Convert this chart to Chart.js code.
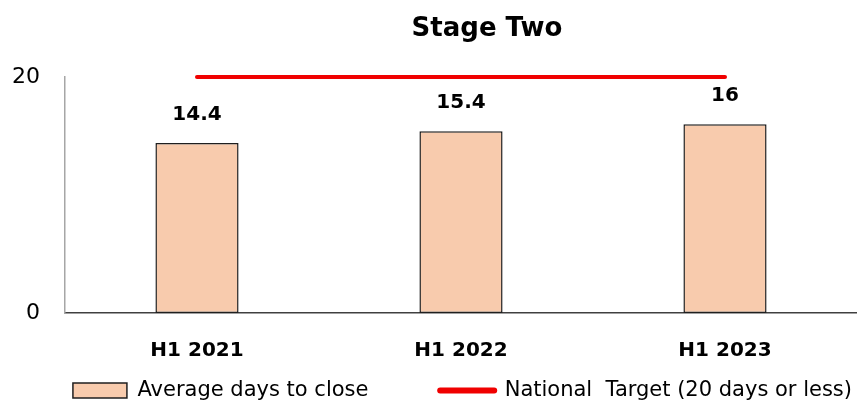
<!DOCTYPE html>
<html>
<head>
<meta charset="utf-8">
<script src="https://cdn.jsdelivr.net/npm/chart.js@4.4.1/dist/chart.umd.min.js"></script>
<style>
  html, body { margin: 0; padding: 0; background: #fff; }
  #wrap { width: 857px; height: 403px; }
</style>
</head>
<body>
<div id="wrap"><canvas id="stageChart" width="857" height="403"></canvas></div>
<script>
const categories = ['H1 2021', 'H1 2022', 'H1 2023'];
const avgDays = [14.4, 15.4, 16];
const targetDays = [20, 20, 20];
const yTicks = [0, 20];
const chartTitle = 'Stage Two';

const FONT = "'DejaVu Sans', sans-serif";

// title sits over the plot, not the middle of the canvas
const titlePlugin = {
    id: 'stageTitle',
    afterDraw(chart) {
        const ctx = chart.ctx;
        ctx.save();
        ctx.font = 'bold 26px ' + FONT;
        ctx.fillStyle = '#000';
        ctx.textAlign = 'center';
        ctx.textBaseline = 'middle';
        ctx.fillText(chartTitle, 487, 29);
        ctx.restore();
    }
};

// value labels above the bars
const valueLabels = {
    id: 'valueLabels',
    afterDatasetsDraw(chart) {
        const ctx = chart.ctx;
        const meta = chart.getDatasetMeta(0);
        ctx.save();
        ctx.font = 'bold 20px ' + FONT;
        ctx.fillStyle = '#000';
        ctx.textAlign = 'center';
        ctx.textBaseline = 'middle';
        meta.data.forEach((bar, i) => {
            ctx.fillText(String(avgDays[i]), bar.x, bar.y - 28);
        });
        ctx.restore();
    }
};

new Chart(document.getElementById('stageChart'), {
    type: 'bar',
    data: {
        labels: categories,
        datasets: [
            {
                type: 'bar',
                label: 'Average days to close',
                data: avgDays,
                backgroundColor: '#F8CBAD',
                borderColor: '#1F1F1F',
                borderWidth: 1.5,
                borderSkipped: false,
                categoryPercentage: 1,
                barPercentage: 0.315,
                order: 2
            },
            {
                type: 'line',
                label: 'National  Target (20 days or less)',
                data: targetDays,
                borderColor: '#F00000',
                backgroundColor: '#F00000',
                borderWidth: 4,
                borderCapStyle: 'round',
                pointRadius: 0,
                clip: false,
                order: 1
            }
        ]
    },
    options: {
        responsive: false,
        animation: false,
        layout: { padding: { top: 77, left: 0, right: 0, bottom: 0 } },
        plugins: {
            title: { display: false },
            tooltip: { enabled: false },
            legend: {
                position: 'bottom',
                align: 'end',
                maxHeight: 28,
                labels: {
                    usePointStyle: true,
                    pointStyleWidth: 54,
                    boxHeight: 15,
                    padding: 5,
                    color: '#000',
                    font: { family: FONT, size: 21 },
                    generateLabels(chart) {
                        return chart.data.datasets.map((ds, i) => {
                            const isLine = ds.type === 'line';
                            return {
                                // wider gap after the first entry, as in the original
                                text: isLine ? ds.label : ds.label + '\u00a0'.repeat(10),
                                datasetIndex: i,
                                fillStyle: isLine ? '#F00000' : '#F8CBAD',
                                strokeStyle: isLine ? '#F00000' : '#1F1F1F',
                                lineWidth: isLine ? 6 : 1.5,
                                lineCap: isLine ? 'round' : 'butt',
                                pointStyle: isLine ? 'line' : 'rect',
                                fontColor: '#000'
                            };
                        });
                    }
                }
            }
        },
        scales: {
            x: {
                grid: { display: false },
                border: { display: true, color: '#404040', width: 1.5 },
                ticks: {
                    color: '#000',
                    padding: 18,
                    font: { family: FONT, size: 20, weight: 'bold' }
                },
                afterFit(scale) { scale.height = 62; }
            },
            y: {
                min: 0,
                max: 20,
                grid: { display: false },
                border: { display: true, color: '#A6A6A6', width: 1.5 },
                afterBuildTicks(scale) {
                    scale.ticks = yTicks.map(v => ({ value: v }));
                },
                ticks: {
                    color: '#000',
                    padding: 17,
                    font: { family: FONT, size: 22 }
                },
                afterFit(scale) { scale.width = 65; }
            }
        }
    },
    plugins: [titlePlugin, valueLabels]
});
</script>
</body>
</html>
